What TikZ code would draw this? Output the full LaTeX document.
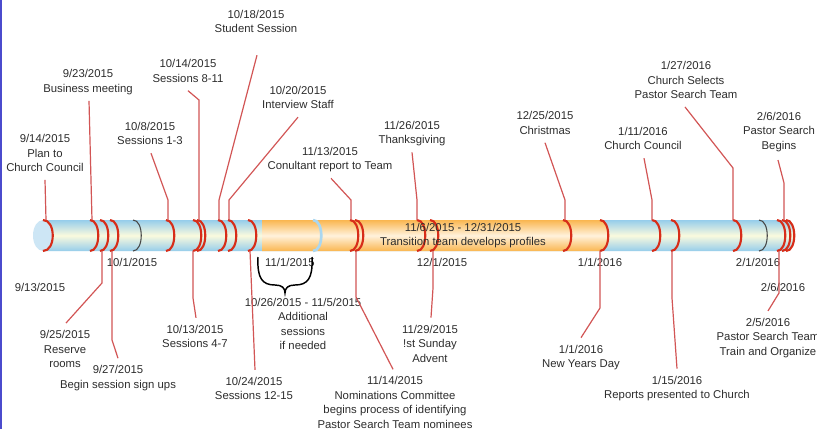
\documentclass[tikz,border=0pt]{standalone}
\usepackage{fontspec}
\setmainfont{Liberation Sans}
\usetikzlibrary{calc}
\definecolor{txt}{RGB}{45,45,45}
\definecolor{leadc}{RGB}{210,85,85}
\definecolor{arcc}{RGB}{215,45,25}
\definecolor{blueE}{RGB}{150,205,235}
\definecolor{cream}{RGB}{250,250,222}
\definecolor{oranE}{RGB}{250,182,80}
\definecolor{oranC}{RGB}{255,242,220}
\definecolor{capc}{RGB}{205,230,245}
\definecolor{tickc}{RGB}{70,70,70}
\definecolor{tickb}{RGB}{170,215,240}
\definecolor{edgec}{RGB}{75,75,205}
\tikzset{
  lbl/.style={font=\fontsize{8.5}{10.9}\selectfont, text=txt, align=center, inner sep=0pt},
  lead/.style={draw=leadc, line width=0.9pt},
  evarc/.style={draw=arcc, line width=1.6pt},
}
\begin{document}
\begin{tikzpicture}[x=0.75pt,y=-0.75pt]
\useasboundingbox (0,0) rectangle (817,429);
\fill[white] (0,0) rectangle (817,429);
\fill[edgec] (0,0) rectangle (2,429);
% bar
\shade[top color=blueE, bottom color=blueE, middle color=cream]
  (43,220) -- (786,220) .. controls +(11,0) and +(11,0) .. (786,251) -- (43,251) -- cycle;
\shade[top color=oranE, bottom color=oranE, middle color=oranC]
  (262,220) -- (600,220) .. controls +(11,0) and +(11,0) .. (600,251) -- (262,251) -- cycle;
\fill[capc] (43,235.5) ellipse [x radius=10, y radius=15.5];
% month ticks
\foreach \c in {133,759}
  \draw[tickc, line width=0.8pt] (\c,220) .. controls +(11,0) and +(11,0) .. (\c,251);
\draw[tickb, line width=2pt] (313,220) .. controls +(11,0) and +(11,0) .. (313,251);
% event arcs
\draw[evarc] (43,220) .. controls +(13,0) and +(13,0) .. (43,251);
\foreach \c in {90,100,110,166,193,197,218,228,248,350,355,417,430,563,600,652,671,733,777,782,786}
  \draw[evarc] (\c,220) .. controls +(11,0) and +(11,0) .. (\c,251);
% bar texts
\node[lbl] (R1) at (463,227) {11/6/2015 - 12/31/2015};
\node[lbl] (R2) at (463,243) {Transition team develops profiles};
% month labels
\node[lbl] (M1) at (132,262) {10/1/2015};
\node[lbl] (M2) at (290,262) {11/1/2015};
\node[lbl] (M3) at (442,262) {12/1/2015};
\node[lbl] (M4) at (600,262) {1/1/2016};
\node[lbl] (M5) at (758,262) {2/1/2016};
% brace
\draw[black, line width=1.1pt] (258,257) .. controls (257,278) and (262,285) .. (275,285)
  .. controls (282,285) and (285,288) .. (285,293)
  .. controls (285,288) and (288,285) .. (295,285)
  .. controls (308,285) and (313,278) .. (312,257);
% top labels
\node[lbl] (T1) at (45,153) {9/14/2015\\Plan to\\Church Council};
\node[lbl] (T2) at (88,82) {9/23/2015\\Business meeting};
\node[lbl] (T3) at (150,133.5) {10/8/2015\\Sessions 1-3};
\node[lbl] (T4) at (188,71) {10/14/2015\\Sessions 8-11};
\node[lbl] (T5) at (256,21.5) {10/18/2015\\Student Session};
\node[lbl] (T6) at (298,97.5) {10/20/2015\\Interview Staff};
\node[lbl] (T7) at (330,159.5) {11/13/2015\\Conultant report to Team};
\node[lbl] (T8) at (412,133.5) {11/26/2015\\Thanksgiving};
\node[lbl] (T9) at (545,123) {12/25/2015\\Christmas};
\node[lbl] (T10) at (643,138.5) {1/11/2016\\Church Council};
\node[lbl] (T11) at (686,80) {1/27/2016\\Church Selects\\Pastor Search Team};
\node[lbl] (T12) at (779,132) {2/6/2016\\Pastor Search\\Begins};
% bottom labels
\node[lbl] (B0) at (40,287) {9/13/2015};
\node[lbl] (B1) at (65,349) {9/25/2015\\Reserve\\rooms};
\node[lbl] (B2) at (118,378) {9/27/2015\\Begin session sign ups};
\node[lbl] (B3) at (195,336.5) {10/13/2015\\Sessions 4-7};
\node[lbl] (B4) at (254,388.5) {10/24/2015\\Sessions 12-15};
\node[lbl] (B5) at (303,324) {10/26/2015 - 11/5/2015\\Additional\\sessions\\if needed};
\node[lbl] (B6) at (395,402.5) {11/14/2015\\Nominations Committee\\begins process of identifying\\Pastor Search Team nominees};
\node[lbl] (B7) at (430,343.5) {11/29/2015\\!st Sunday\\Advent};
\node[lbl] (B8) at (581,357.5) {1/1/2016\\New Years Day};
\node[lbl] (B9) at (677,388.5) {1/15/2016\\Reports presented to Church};
\node[lbl] (B10) at (783,287) {2/6/2016};
\node[lbl] (B11) at (768,338) {2/5/2016\\Pastor Search Team\\Train and Organize};
% attach points on bar
\coordinate (a914) at (46,220);
\coordinate (a923) at (92,220);
\coordinate (a1008) at (168,220);
\coordinate (a1014) at (199,220);
\coordinate (a1018) at (219,220);
\coordinate (a1020) at (229,220);
\coordinate (a1113) at (351,220);
\coordinate (a1126) at (417,220);
\coordinate (a1225) at (565,220);
\coordinate (a0111) at (652,220);
\coordinate (a0127) at (733,220);
\coordinate (a0206) at (784,220);
\coordinate (a925) at (102,251);
\coordinate (a927) at (112,251);
\coordinate (a1013) at (193,251);
\coordinate (a1024) at (250,251);
\coordinate (a1114) at (356,251);
\coordinate (a1129) at (433,251);
\coordinate (a0101) at (600,251);
\coordinate (a0115) at (672,251);
\coordinate (a0205) at (779,251);
% top leaders
\draw[lead] ($(T1.south)+(0,8)$) -- (a914);
\draw[lead] ($(T2.south)+(1,6)$) -- (a923);
\draw[lead] ($(T3.south)+(1,8)$) -- (168,200) -- (a1008);
\draw[lead] ($(T4.south)+(0,8)$) -- (199,100) -- (a1014);
\draw[lead] ($(T5.south)+(1,22)$) -- (219,200) -- (a1018);
\draw[lead] ($(T6.south)+(0,8)$) -- (229,200) -- (a1020);
\draw[lead] ($(T7.south)+(1,6)$) -- (351,200) -- (a1113);
\draw[lead] ($(T8.south)+(0,6)$) -- (417,200) -- (a1126);
\draw[lead] ($(T9.south)+(0,8)$) -- (565,200) -- (a1225);
\draw[lead] ($(T10.south)+(1,8)$) -- (652,200) -- (a0111);
\draw[lead] ($(T11.south)+(-1,8)$) -- (733,168) -- (a0127);
\draw[lead] ($(T12.south)+(-1,8)$) -- (784,183) -- (a0206);
% bottom leaders
\draw[lead] (a925) -- (102,283) -- ($(B1.north)+(1,-7)$);
\draw[lead] (a927) -- (112,340) -- ($(B2.north)+(0,-7)$);
\draw[lead] (a1013) -- (193,298) -- ($(B3.north)+(1,-7)$);
\draw[lead] (a1024) -- ($(B4.north)+(1,-7)$);
\draw[lead] (a1114) -- (356,297) -- ($(B6.north)+(-2,-7)$);
\draw[lead] (a1129) -- (433,288) -- ($(B7.north)+(1,-7)$);
\draw[lead] (a0101) -- (600,308) -- ($(B8.north)+(0,-7)$);
\draw[lead] (a0115) -- (672,298) -- ($(B9.north)+(0,-7)$);
\draw[lead] (a0205) -- (779,293) -- ($(B11.north)+(0,-7)$);
\end{tikzpicture}
\end{document}
